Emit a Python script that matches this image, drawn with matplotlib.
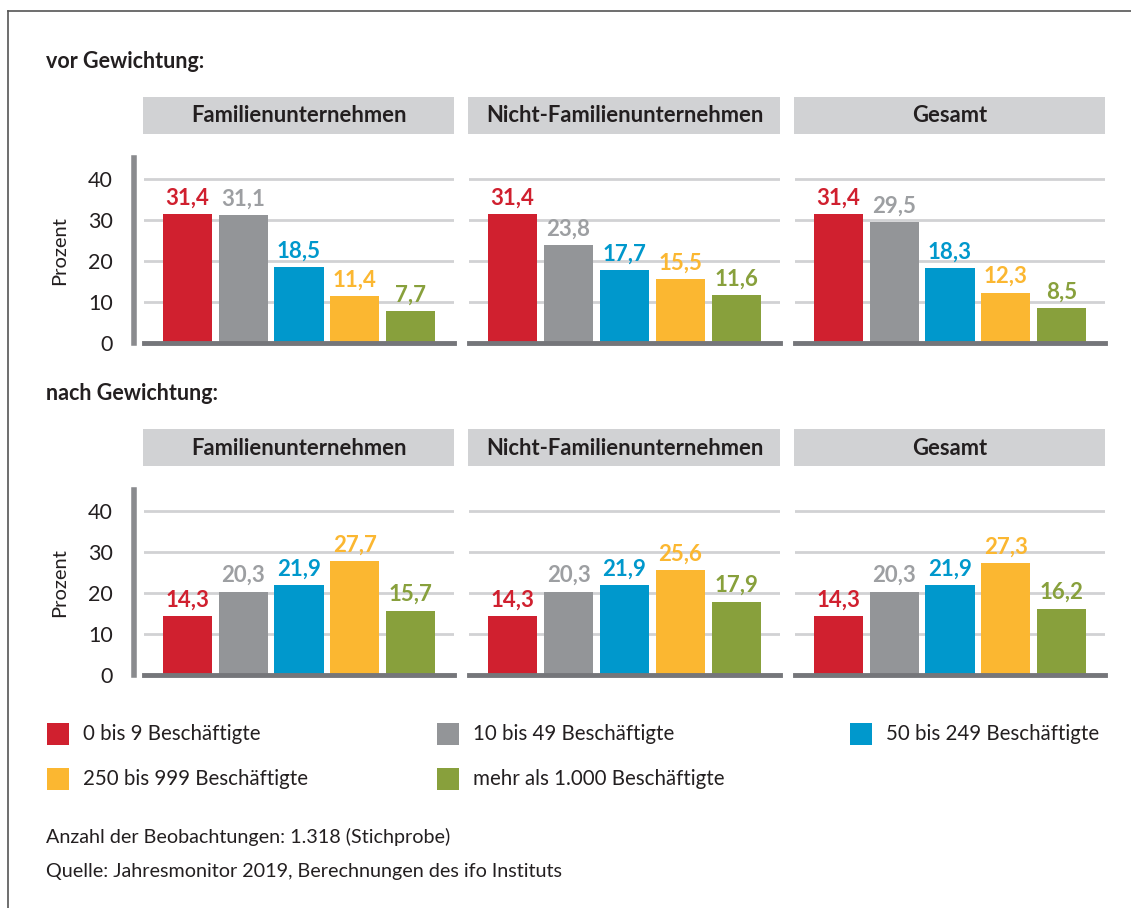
import matplotlib
matplotlib.use("Agg")
import matplotlib.pyplot as plt
from matplotlib.patches import Rectangle
from matplotlib.lines import Line2D

plt.rcParams['font.family'] = ['Lato', 'DejaVu Sans']

# data
panels = ['Familienunternehmen', 'Nicht-Familienunternehmen', 'Gesamt']
groups = ['0 bis 9 Beschäftigte', '10 bis 49 Beschäftigte', '50 bis 249 Beschäftigte',
          '250 bis 999 Beschäftigte', 'mehr als 1.000 Beschäftigte']
vor = [[31.4, 31.1, 18.5, 11.4, 7.7],
       [31.4, 23.8, 17.7, 15.5, 11.6],
       [31.4, 29.5, 18.3, 12.3, 8.5]]
nach = [[14.3, 20.3, 21.9, 27.7, 15.7],
        [14.3, 20.3, 21.9, 25.6, 17.9],
        [14.3, 20.3, 21.9, 27.3, 16.2]]
sections = ['vor Gewichtung:', 'nach Gewichtung:']
yticks = [0, 10, 20, 30, 40]

colors = ['#d0202f', '#939598', '#0098cc', '#fbb731', '#88a03c']
label_colors = ['#d0202f', '#9d9fa2', '#0098cc', '#fbb731', '#88a03c']
txt = '#231f20'

W, H = 1131, 908
fig = plt.figure(figsize=(W / 100, H / 100), dpi=100)

def fx(x):
    return x / W

def fy(y):
    return 1 - y / H

# frame lines
fig.add_artist(Line2D([fx(8), fx(8)], [fy(11), fy(908)], color='#555555', lw=1.2))
fig.add_artist(Line2D([fx(8), fx(1131)], [fy(11), fy(11)], color='#555555', lw=1.2))

px_left = [144, 469, 795]
px_right = [454, 780, 1105]
scale = 4.1  # px per percent

for r, (title, data) in enumerate(zip(sections, [vor, nach])):
    off = 332 * r
    fig.text(fx(46), fy(62 + off), title, fontsize=15.5, fontweight='bold', color=txt,
             ha='left', va='center')
    base = 343 + off
    top = 158 + off
    for i, name in enumerate(panels):
        # header box
        fig.add_artist(Rectangle((fx(px_left[i] - 1), fy(134 + off)),
                                 fx(px_right[i] - px_left[i] + 1), (134 - 97) / H,
                                 transform=fig.transFigure, color='#d1d2d4', lw=0))
        fig.text(fx((px_left[i] + px_right[i]) / 2), fy(116 + off), name,
                 fontsize=15.8, fontweight='bold', color=txt, ha='center', va='center')

        ax = fig.add_axes([fx(px_left[i]), fy(base), fx(px_right[i] - px_left[i]),
                           (base - top) / H])
        ax.set_xlim(-0.78, 4.78)
        ax.set_ylim(0, (base - top) / scale)
        for t in yticks[1:]:
            ax.axhline(t, color='#d1d2d4', lw=2, zorder=0)
        ax.bar(range(5), data[i], width=0.88, color=colors, zorder=2)
        ax.axhline(0, color='#75767a', lw=3.5, zorder=3, clip_on=False)
        for k, v in enumerate(data[i]):
            ax.annotate(f'{v:.1f}'.replace('.', ','), (k, v), xytext=(0, 7),
                        textcoords='offset points', ha='center', va='baseline',
                        fontsize=16, fontweight='bold', color=label_colors[k])
        for s in ['top', 'right', 'bottom']:
            ax.spines[s].set_visible(False)
        ax.set_xticks([])
        if i == 0:
            ax.spines['left'].set_position(('outward', 7.5))
            ax.spines['left'].set_color('#8a8b8e')
            ax.spines['left'].set_linewidth(4)
            ax.set_yticks(yticks)
            ax.tick_params(axis='y', length=0, pad=15, labelsize=15.5, labelcolor=txt)
            ax.set_ylabel('Prozent', fontsize=14.5, color=txt, labelpad=14)
        else:
            ax.spines['left'].set_visible(False)
            ax.set_yticks([])

# legend
leg_pos = [(47, 734), (437, 734), (850, 734), (47, 779), (437, 779)]
for k, (lx, ly) in enumerate(leg_pos):
    fig.add_artist(Rectangle((fx(lx), fy(ly + 11)), 22 / W, 22 / H,
                             transform=fig.transFigure, color=colors[k], lw=0))
    fig.text(fx(lx + 36), fy(ly), groups[k], fontsize=14.8, color=txt,
             ha='left', va='center')

fig.text(fx(46), fy(837), 'Anzahl der Beobachtungen: 1.318 (Stichprobe)', fontsize=14.2,
         color=txt, ha='left', va='center')
fig.text(fx(46), fy(871), 'Quelle: Jahresmonitor 2019, Berechnungen des ifo Instituts',
         fontsize=14.2, color=txt, ha='left', va='center')

fig.savefig('out.png', dpi=100)
